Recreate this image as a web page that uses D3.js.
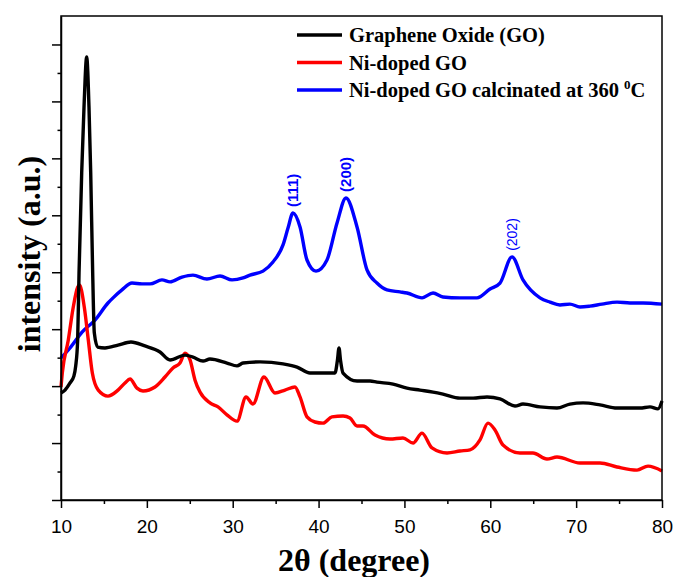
<!DOCTYPE html>
<html>
<head>
<meta charset="utf-8">
<script src="https://cdn.jsdelivr.net/npm/d3@7/dist/d3.min.js"></script>
<style>
  body { margin: 0; background: #fff; }
  svg text { fill: #000; }
</style>
</head>
<body>
<div id="chart"></div>
<script>
// 2theta positions and intensities (arbitrary units, one minor tick = 1)
const goTheta = [10.00, 10.47, 11.05, 11.50, 11.71, 11.94, 12.10, 12.41, 12.68, 12.99, 13.26, 13.46, 13.69, 13.88, 14.27, 15.12, 16.64, 18.15, 19.78, 21.53, 22.70, 24.44, 25.37, 26.54, 27.35, 29.33, 30.50, 31.20, 33.18, 35.86, 37.49, 39.00, 40.98, 41.91, 42.20, 42.38, 42.55, 42.85, 44.48, 45.99, 46.80, 48.67, 50.30, 51.81, 53.33, 54.49, 56.47, 57.99, 59.62, 61.13, 62.88, 63.81, 65.79, 67.77, 69.28, 70.80, 72.78, 74.76, 77.44, 78.60, 79.53, 80.00];
const goValues = [3.76, 3.86, 4.11, 4.35, 4.70, 5.62, 7.97, 11.49, 13.80, 15.56, 13.80, 11.49, 7.97, 5.87, 5.37, 5.34, 5.44, 5.55, 5.41, 5.20, 4.92, 5.09, 5.02, 4.88, 4.95, 4.81, 4.71, 4.81, 4.85, 4.78, 4.67, 4.46, 4.46, 4.46, 4.92, 5.34, 4.92, 4.46, 4.18, 4.18, 4.14, 4.07, 3.93, 3.86, 3.79, 3.72, 3.58, 3.58, 3.62, 3.55, 3.30, 3.37, 3.27, 3.23, 3.37, 3.41, 3.34, 3.23, 3.23, 3.27, 3.20, 3.48];

const niTheta = [10.00, 10.15, 10.85, 11.43, 11.95, 12.15, 12.71, 13.18, 13.65, 14.34, 15.47, 16.64, 17.45, 18.04, 18.85, 19.55, 20.95, 22.11, 23.04, 23.86, 24.44, 25.03, 25.61, 26.19, 27.35, 28.29, 29.33, 30.50, 31.55, 32.36, 33.64, 34.92, 36.09, 37.25, 37.84, 38.65, 39.58, 40.52, 41.56, 42.85, 43.66, 44.48, 45.17, 46.57, 48.32, 49.83, 51.00, 52.05, 53.21, 54.96, 56.47, 57.64, 58.80, 59.73, 60.55, 61.48, 63.46, 64.97, 66.60, 67.77, 70.45, 72.78, 74.76, 77.09, 78.37, 80.00];
const niValues = [3.97, 4.46, 5.62, 6.78, 7.48, 7.55, 6.78, 5.62, 4.46, 3.86, 3.65, 3.86, 4.11, 4.25, 3.93, 3.83, 3.97, 4.32, 4.64, 4.81, 5.16, 4.92, 4.21, 3.79, 3.41, 3.27, 2.99, 2.77, 3.62, 3.37, 4.32, 3.76, 3.86, 3.97, 3.62, 2.92, 2.74, 2.70, 2.92, 2.95, 2.88, 2.60, 2.60, 2.28, 2.14, 2.18, 2.00, 2.35, 1.83, 1.65, 1.72, 1.76, 2.11, 2.70, 2.46, 1.93, 1.65, 1.65, 1.44, 1.51, 1.30, 1.30, 1.16, 1.05, 1.19, 1.02];

const calcTheta = [10.00, 11.05, 12.45, 13.96, 15.47, 16.06, 17.10, 18.27, 19.43, 20.37, 21.76, 22.70, 24.09, 25.37, 27.00, 28.52, 29.92, 31.20, 32.01, 33.53, 34.69, 35.86, 36.44, 37.02, 37.84, 38.65, 39.70, 40.98, 42.15, 43.19, 44.48, 45.64, 46.80, 47.97, 49.48, 50.30, 52.05, 53.33, 54.49, 56.47, 58.45, 59.97, 61.13, 62.53, 63.81, 65.79, 66.95, 68.12, 69.28, 70.45, 71.61, 73.01, 74.76, 76.27, 77.79, 80.00];
const calcValues = [4.99, 5.34, 5.90, 6.32, 6.92, 7.10, 7.38, 7.62, 7.59, 7.59, 7.73, 7.66, 7.83, 7.90, 7.76, 7.87, 7.73, 7.80, 7.90, 8.04, 8.36, 8.96, 9.55, 10.08, 9.59, 8.43, 8.04, 8.43, 9.73, 10.61, 9.59, 8.08, 7.62, 7.38, 7.31, 7.27, 7.10, 7.27, 7.13, 7.10, 7.10, 7.41, 7.62, 8.54, 7.73, 7.10, 6.95, 6.85, 6.88, 6.78, 6.81, 6.88, 6.95, 6.92, 6.92, 6.88];

const seriesNames = ["Graphene Oxide (GO)", "Ni-doped GO", "Ni-doped GO calcinated at 360 "];
const seriesColors = ["#000000", "#ff0000", "#0000ff"];

const peakLabels = ["(111)", "(200)", "(202)"];
const peakTheta = [37.0, 43.2, 62.5];
const peakValues = [10.08, 10.61, 8.54];

const xTicks = [10, 20, 30, 40, 50, 60, 70, 80];

const width = 675, height = 577;
const margin = { top: 16, right: 13, bottom: 77, left: 61 };

const svg = d3.select("#chart").append("svg")
    .attr("width", width)
    .attr("height", height);

const x = d3.scaleLinear().domain([10, 80]).range([margin.left, width - margin.right]);
const y = d3.scaleLinear().domain([0, 17]).range([height - margin.bottom, margin.top]);

const line = d3.line()
    .x(d => x(d[0]))
    .y(d => y(d[1]))
    .curve(d3.curveMonotoneX);

const plot = svg.append("g");

// curves: draw calcinated first so GO sits on top like the original
const series = [
    { theta: calcTheta, values: calcValues, color: seriesColors[2] },
    { theta: niTheta, values: niValues, color: seriesColors[1] },
    { theta: goTheta, values: goValues, color: seriesColors[0] }
];

series.forEach(s => {
    plot.append("path")
        .datum(d3.zip(s.theta, s.values))
        .attr("fill", "none")
        .attr("stroke", s.color)
        .attr("stroke-width", 3.4)
        .attr("stroke-linejoin", "round")
        .attr("d", line);
});

// frame
svg.append("rect")
    .attr("x", x(10)).attr("y", y(17))
    .attr("width", x(80) - x(10)).attr("height", y(0) - y(17))
    .attr("fill", "none")
    .attr("stroke", "#000")
    .attr("stroke-width", 1.5);

// x axis
const xAxis = svg.append("g")
    .attr("transform", `translate(0,${y(0)})`)
    .call(d3.axisBottom(x).tickValues(xTicks).tickSize(8).tickSizeOuter(0).tickPadding(12));
xAxis.select(".domain").attr("stroke-width", 1.5);
xAxis.selectAll(".tick line").attr("stroke-width", 1.5);
xAxis.selectAll("text")
    .attr("font-family", "Liberation Sans, Arial, sans-serif")
    .attr("font-size", 19)
    .attr("fill", "#000");

svg.append("g")
    .attr("transform", `translate(0,${y(0)})`)
    .call(d3.axisBottom(x).tickValues(d3.range(15, 80, 10)).tickSize(4).tickFormat(""))
    .call(g => g.select(".domain").remove())
    .selectAll(".tick line").attr("stroke-width", 1.5);

// y axis (no labels)
const yAxis = svg.append("g")
    .attr("transform", `translate(${x(10)},0)`)
    .call(d3.axisLeft(y).tickValues(d3.range(0, 17, 2)).tickSize(9).tickSizeOuter(0).tickFormat(""));
yAxis.select(".domain").attr("stroke-width", 1.5);
yAxis.selectAll(".tick line").attr("stroke-width", 1.5);

svg.append("g")
    .attr("transform", `translate(${x(10)},0)`)
    .call(d3.axisLeft(y).tickValues(d3.range(1, 17, 2)).tickSize(3.5).tickFormat(""))
    .call(g => g.select(".domain").remove())
    .selectAll(".tick line").attr("stroke-width", 1.5);

// axis titles
svg.append("text")
    .attr("x", 354)
    .attr("y", 571)
    .attr("text-anchor", "middle")
    .attr("font-family", "Liberation Serif, Times New Roman, serif")
    .attr("font-weight", "bold")
    .attr("font-size", 32)
    .text("2θ (degree)");

svg.append("text")
    .attr("transform", "translate(40,254) rotate(-90)")
    .attr("text-anchor", "middle")
    .attr("font-family", "Liberation Serif, Times New Roman, serif")
    .attr("font-weight", "bold")
    .attr("font-size", 32)
    .text("intensity (a.u.)");

// peak labels
peakLabels.forEach((lab, i) => {
    const bold = i < 2;
    svg.append("text")
        .attr("transform", `translate(${x(peakTheta[i]) + 5},${y(peakValues[i]) - 6}) rotate(-90)`)
        .attr("font-family", "Liberation Sans, Arial, sans-serif")
        .attr("font-weight", bold ? "bold" : "normal")
        .attr("font-size", bold ? 15 : 14)
        .style("fill", "#0000ff")
        .text(lab);
});

// legend
const legend = svg.append("g").attr("transform", "translate(297,35)");
seriesNames.forEach((name, i) => {
    const row = legend.append("g").attr("transform", `translate(0,${i * 27.5})`);
    row.append("line")
        .attr("x1", 0).attr("x2", 45)
        .attr("stroke", seriesColors[i])
        .attr("stroke-width", 3.4);
    const t = row.append("text")
        .attr("x", 52)
        .attr("y", 7)
        .attr("font-family", "Liberation Serif, Times New Roman, serif")
        .attr("font-weight", "bold")
        .attr("font-size", 20.5)
        .text(name);
    if (i === 2) {
        t.append("tspan").attr("dy", -8).attr("font-size", 13).text("0");
        t.append("tspan").attr("dy", 8).text("C");
    }
});
</script>
</body>
</html>
